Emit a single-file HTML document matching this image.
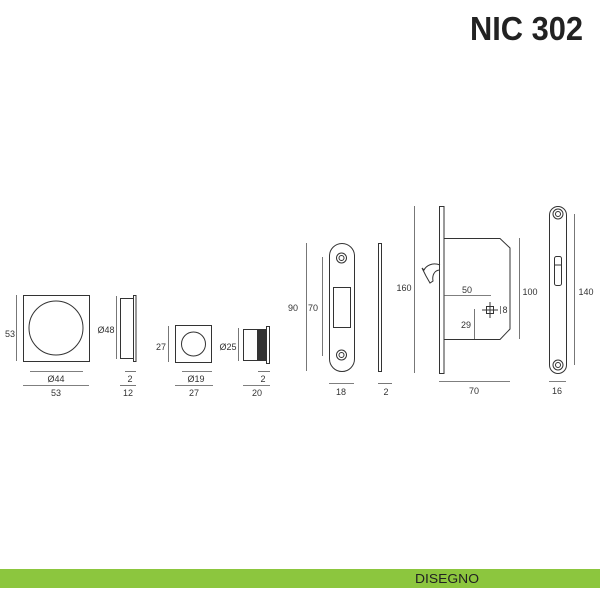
<!DOCTYPE html>
<html><head><meta charset="utf-8"><style>body{margin:0;background:#fff}svg{display:block}</style></head>
<body>
<svg width="600" height="600" viewBox="0 0 600 600" xmlns="http://www.w3.org/2000/svg" font-family="Liberation Sans, sans-serif">
<text x="470" y="40" font-size="33" font-weight="bold" fill="#222" textLength="113" lengthAdjust="spacingAndGlyphs">NIC 302</text>
<g fill="none" stroke="#333" stroke-width="1">
<!-- square plate -->
<rect x="23.5" y="295.5" width="66" height="66"/>
<circle cx="56" cy="328" r="27"/>
<!-- side profile -->
<rect x="120.5" y="298.5" width="13" height="60"/>
<rect x="133.5" y="295.5" width="2.5" height="66"/>
<!-- small square -->
<rect x="175.5" y="325.5" width="36" height="37"/>
<circle cx="193.5" cy="344" r="12"/>
<!-- cylinder -->
<rect x="243.5" y="329.5" width="14" height="31"/>
<rect x="257.5" y="329.5" width="9" height="31" fill="#333"/>
<rect x="266.5" y="326.5" width="3" height="37"/>
<!-- strike plate -->
<rect x="329.5" y="243.5" width="25" height="128" rx="12.5"/>
<circle cx="341.5" cy="258" r="5"/><circle cx="341.5" cy="258" r="2.5"/>
<circle cx="341.5" cy="355" r="5"/><circle cx="341.5" cy="355" r="2.5"/>
<rect x="333.5" y="287.5" width="17" height="40"/>
<rect x="378.5" y="243.5" width="3" height="128"/>
<!-- lock -->
<rect x="439.5" y="206.5" width="4.5" height="167"/>
<polyline points="444,238.5 500,238.5 510,248 510,329 500,339.5 444,339.5"/>
<path d="M440,265 C432,262 426,266 424,270 L422,268 L426,276 L430,283 L433,281 C432,276 434,270 440,270"/>
<rect x="486.5" y="306.5" width="7" height="7"/>
<line x1="482" y1="310" x2="498" y2="310"/><line x1="490" y1="302" x2="490" y2="318"/>
<!-- right plate -->
<rect x="549.5" y="206.5" width="17" height="167" rx="8.5"/>
<circle cx="558" cy="214" r="5"/><circle cx="558" cy="214" r="2.5"/>
<circle cx="558" cy="365" r="5"/><circle cx="558" cy="365" r="2.5"/>
<rect x="554.5" y="256.5" width="7" height="29" rx="2"/>
<line x1="554.5" y1="265" x2="561.5" y2="265"/>
</g>
<g stroke="#555" stroke-width="0.8">
<line x1="16.5" y1="295" x2="16.5" y2="361"/>
<line x1="30" y1="371.5" x2="83" y2="371.5"/><line x1="23" y1="385.5" x2="89" y2="385.5"/>
<line x1="116.5" y1="296" x2="116.5" y2="359"/>
<line x1="125" y1="371.5" x2="136" y2="371.5"/><line x1="120" y1="385.5" x2="136" y2="385.5"/>
<line x1="168.5" y1="326" x2="168.5" y2="362"/>
<line x1="182" y1="371.5" x2="212" y2="371.5"/><line x1="175" y1="385.5" x2="213" y2="385.5"/>
<line x1="238.5" y1="328" x2="238.5" y2="361"/>
<line x1="258" y1="371.5" x2="270" y2="371.5"/><line x1="243" y1="385.5" x2="270" y2="385.5"/>
<line x1="306.5" y1="243" x2="306.5" y2="371"/><line x1="322.5" y1="257" x2="322.5" y2="356"/>
<line x1="329" y1="383.5" x2="354" y2="383.5"/><line x1="378" y1="383.5" x2="392" y2="383.5"/>
<line x1="414.5" y1="206" x2="414.5" y2="373"/>
<line x1="519.5" y1="238" x2="519.5" y2="339"/>
<line x1="444" y1="295.5" x2="491" y2="295.5"/>
<line x1="474.5" y1="309" x2="474.5" y2="339"/>
<line x1="500.5" y1="306" x2="500.5" y2="314"/>
<line x1="439" y1="381.5" x2="510" y2="381.5"/>
<line x1="574.5" y1="214" x2="574.5" y2="365"/>
<line x1="549" y1="381.5" x2="566" y2="381.5"/>
</g>
<g font-size="9" fill="#333" text-anchor="middle">
<text x="10" y="337">53</text>
<text x="56" y="382">Ø44</text><text x="56" y="396">53</text>
<text x="106" y="333">Ø48</text>
<text x="130" y="382">2</text><text x="128" y="396">12</text>
<text x="161" y="350">27</text>
<text x="196" y="382">Ø19</text><text x="194" y="396">27</text>
<text x="228" y="350">Ø25</text>
<text x="263" y="382">2</text><text x="257" y="396">20</text>
<text x="293" y="311">90</text><text x="313" y="311">70</text>
<text x="341" y="395">18</text><text x="386" y="395">2</text>
<text x="404" y="291">160</text>
<text x="467" y="293">50</text>
<text x="466" y="328">29</text>
<text x="505" y="313">8</text>
<text x="530" y="295">100</text>
<text x="474" y="394">70</text>
<text x="586" y="295">140</text>
<text x="557" y="394">16</text>
</g>
<rect x="0" y="569" width="600" height="19" fill="#8cc63e"/>
<text x="415" y="583" font-size="13" fill="#222" textLength="64" lengthAdjust="spacingAndGlyphs">DISEGNO</text>
</svg>
</body></html>
